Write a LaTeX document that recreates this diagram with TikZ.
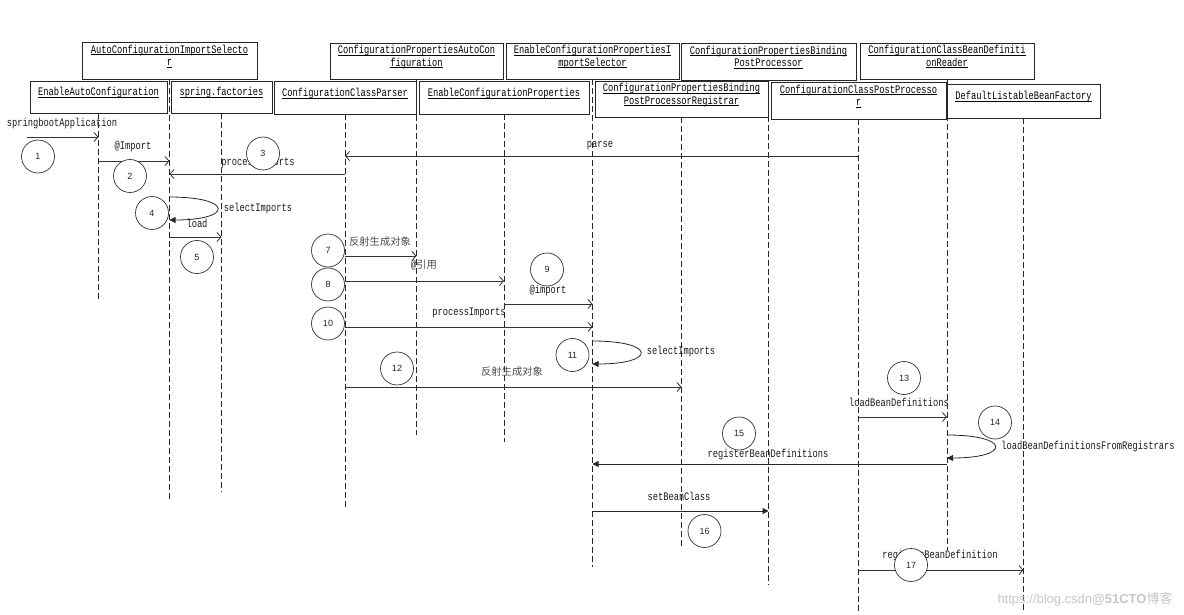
\documentclass[tikz,border=0pt]{standalone}
\usepackage{fontspec}
\usetikzlibrary{arrows.meta}
\setmainfont{Liberation Serif}
\newfontfamily\mono[FakeStretch=0.76]{Liberation Mono}
\newfontfamily\cjk{Noto Sans CJK SC}
\newfontfamily\numfont{Liberation Sans}
\newcommand{\ulx}[1]{\underline{\smash{#1}}}
\tikzset{
  box/.style={draw=black!85, line width=0.8pt, inner sep=0pt, align=center, font={\mono\fontsize{11.5}{12.5}\selectfont}},
  lifeline/.style={draw=black!85, line width=0.8pt, dash pattern=on 6pt off 3pt},
  msg/.style={draw=black!80, line width=0.8pt, -{Straight Barb[length=4pt,width=9pt]}},
  fmsg/.style={draw=black!85, line width=0.8pt, -{Triangle[length=6pt,width=6pt]}},
  lbl/.style={inner sep=0pt, text=black!90, font={\mono\fontsize{11.5}{12}\selectfont}},
  clbl/.style={inner sep=0pt, text=black!70, font={\cjk\fontsize{10.3}{12}\selectfont}},
  num/.style={circle, draw=black!80, fill=white, line width=0.7pt, minimum size=33pt, inner sep=0pt, text=black!85, font={\numfont\fontsize{9}{9}\selectfont}}
}
\begin{document}
\begin{tikzpicture}[x=1pt,y=-1pt]
\useasboundingbox (0,0) rectangle (1184,615);
% boxes upper row
\node[box, minimum width=175pt, minimum height=37pt] (acis) at (169.5,60.5) {\ulx{AutoConfigurationImportSelecto}\\\ulx{r}};
\node[box, minimum width=173pt, minimum height=36pt] (cpac) at (416.5,61) {\ulx{ConfigurationPropertiesAutoCon}\\\ulx{figuration}};
\node[box, minimum width=173pt, minimum height=36pt] (ecpis) at (592.5,61) {\ulx{EnableConfigurationPropertiesI}\\\ulx{mportSelector}};
\node[box, minimum width=175pt, minimum height=37pt] (cpbpp) at (768.5,61.5) {\ulx{ConfigurationPropertiesBinding}\\\ulx{PostProcessor}};
\node[box, minimum width=174pt, minimum height=36pt] (ccbdr) at (947,61) {\ulx{ConfigurationClassBeanDefiniti}\\\ulx{onReader}};
% boxes lower row
\node[box, minimum width=137pt, minimum height=32pt] (eac) at (98.5,97) {\ulx{EnableAutoConfiguration}};
\node[box, minimum width=101pt, minimum height=32pt] (sf) at (221.5,97) {\ulx{spring.factories}};
\node[box, minimum width=142pt, minimum height=33pt] (ccp) at (345,97.5) {\ulx{ConfigurationClassParser}};
\node[box, minimum width=170pt, minimum height=33pt] (ecp) at (504,97.5) {\ulx{EnableConfigurationProperties}};
\node[box, minimum width=173pt, minimum height=36pt] (cpbppr) at (681.5,99) {\ulx{ConfigurationPropertiesBinding}\\\ulx{PostProcessorRegistrar}};
\node[box, minimum width=175pt, minimum height=37pt] (ccpp) at (858.5,100.5) {\ulx{ConfigurationClassPostProcesso}\\\ulx{r}};
\node[box, minimum width=153pt, minimum height=34pt] (dlbf) at (1023.5,101) {\ulx{DefaultListableBeanFactory}};
% lifelines
\draw[lifeline] (eac.south) -- (eac.south |- 0,301);
\draw[lifeline] (acis.south) -- (acis.south |- 0,502);
\draw[lifeline] (sf.south) -- (sf.south |- 0,492);
\draw[lifeline] (ccp.south) -- (ccp.south |- 0,510);
\draw[lifeline] (cpac.south) -- (cpac.south |- 0,435);
\draw[lifeline] (ecp.south) -- (ecp.south |- 0,442);
\draw[lifeline] (ecpis.south) -- (ecpis.south |- 0,567);
\draw[lifeline] (cpbppr.south) -- (cpbppr.south |- 0,547);
\draw[lifeline] (cpbpp.south) -- (cpbpp.south |- 0,585);
\draw[lifeline] (ccpp.south) -- (ccpp.south |- 0,613);
\draw[lifeline] (ccbdr.south) -- (ccbdr.south |- 0,550);
\draw[lifeline] (dlbf.south) -- (dlbf.south |- 0,613);
% messages
\coordinate (start) at (27,137);
\draw[msg] (start) -- (eac |- 0,137);
\node[lbl] (l1) at (62,124) {springbootApplication};
\draw[msg] (eac |- 0,161) -- (acis |- 0,161);
\node[lbl] (l2) at (133,147) {@Import};
\draw[msg] (ccp |- 0,174) -- (acis |- 0,174);
\node[lbl] (l3) at (258,163) {processImports};
\draw[msg] (ccpp |- 0,156) -- (ccp |- 0,156);
\node[lbl] (lp) at (600,146) {parse};
\draw[fmsg] (acis |- 0,197) .. controls +(64,0) and +(64,0) .. (acis |- 0,220);
\node[lbl] (l4) at (258,209) {selectImports};
\draw[msg] (acis |- 0,237) -- (sf |- 0,237);
\node[lbl] (l5) at (197,223) {load};
\draw[msg] (ccp |- 0,256) -- (cpac |- 0,256);
\node[clbl] (l7) at (380,242) {反射生成对象};
\draw[msg] (ccp |- 0,281) -- (ecp |- 0,281);
\node[inner sep=0pt] (l8) at (424,265) {{\mono\fontsize{11.5}{12}\selectfont\color{black!90}@}{\cjk\fontsize{10.3}{12}\selectfont\color{black!70}引用}};
\draw[msg] (ecp |- 0,304) -- (ecpis |- 0,304);
\node[lbl] (l9) at (548,291) {@import};
\draw[msg] (ccp |- 0,327) -- (ecpis |- 0,327);
\node[lbl] (l10) at (469,313) {processImports};
\draw[fmsg] (ecpis |- 0,341) .. controls +(64,0) and +(64,0) .. (ecpis |- 0,364);
\node[lbl] (l11) at (681,352) {selectImports};
\draw[msg] (ccp |- 0,387) -- (cpbppr |- 0,387);
\node[clbl] (l12) at (512,372) {反射生成对象};
\draw[msg] (ccpp |- 0,417) -- (ccbdr |- 0,417);
\node[lbl] (l13) at (899,402) {loadBeanDefinitions};
\draw[fmsg] (ccbdr |- 0,435) .. controls +(64,0) and +(64,0) .. (ccbdr |- 0,458);
\node[lbl] (l14) at (1088,447) {loadBeanDefinitionsFromRegistrars};
\draw[fmsg] (ccbdr |- 0,464) -- (ecpis |- 0,464);
\node[lbl] (l15) at (768,455) {registerBeanDefinitions};
\draw[fmsg] (ecpis |- 0,511) -- (cpbpp |- 0,511);
\node[lbl] (l16) at (679,496) {setBeanClass};
\draw[msg] (ccpp |- 0,570) -- (dlbf |- 0,570);
\node[lbl] (l17) at (940,556) {registerBeanDefinition};
% step circles
\node[num] (c1) at (38,156.5) {1};
\node[num] (c2) at (130,176) {2};
\node[num] (c3) at (263,153.5) {3};
\node[num] (c4) at (152,213) {4};
\node[num] (c5) at (197,257) {5};
\node[num] (c7) at (328,250.5) {7};
\node[num] (c8) at (328,284.5) {8};
\node[num] (c9) at (547,269.5) {9};
\node[num] (c10) at (328,323.5) {10};
\node[num] (c11) at (572.5,355) {11};
\node[num] (c12) at (397,368.5) {12};
\node[num] (c13) at (904,378) {13};
\node[num] (c14) at (995,422.5) {14};
\node[num] (c15) at (739,433.5) {15};
\node[num] (c16) at (704.5,531) {16};
\node[num] (c17) at (911,565) {17};
% watermark
\node[inner sep=0pt, text=black!22, font={\numfont\fontsize{13}{13}\selectfont}] (wm) at (1085,599) {https://blog.csdn\textbf{@51CTO}{\cjk 博客}};
\end{tikzpicture}
\end{document}
